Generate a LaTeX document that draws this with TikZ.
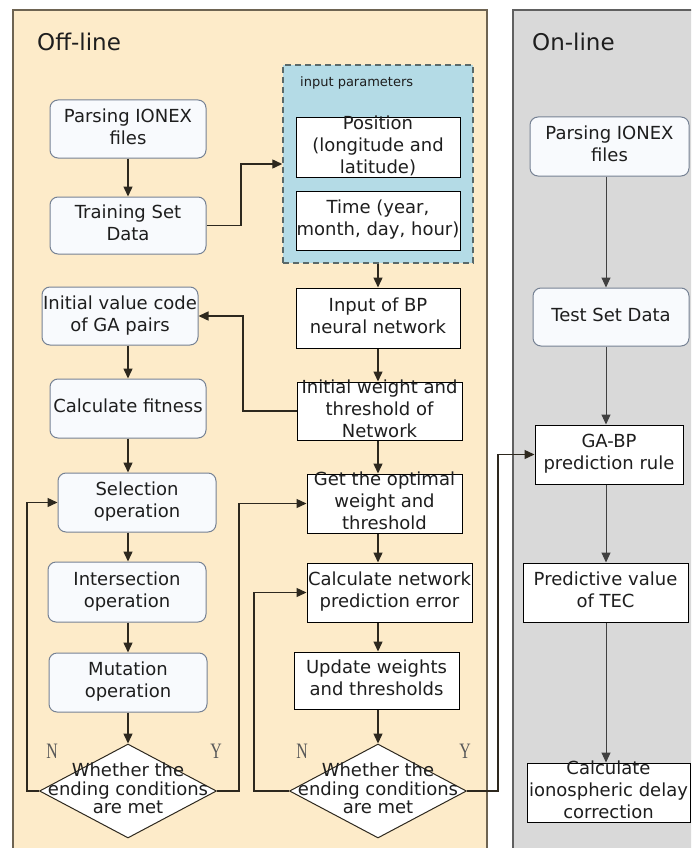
\documentclass[tikz,border=0pt]{standalone}
\usepackage{fontspec}
\setmainfont{DejaVu Sans}
\newfontfamily\ynfont{Liberation Serif}
\usetikzlibrary{shapes.geometric,arrows.meta}

% centred text of zero size, so that a node's size comes only from its minimum width/height
\newcommand{\ctext}[1]{\vbox to 0pt{\vss\hbox to 0pt{\hss\begin{tabular}{@{}c@{}}#1\end{tabular}\hss}\vss}}

\definecolor{offfill}{RGB}{253,235,201}
\definecolor{offedge}{RGB}{110,100,82}
\definecolor{onfill}{RGB}{217,217,217}
\definecolor{onedge}{RGB}{96,96,96}
\definecolor{parfill}{RGB}{180,219,230}
\definecolor{paredge}{RGB}{90,105,105}
\definecolor{rbedge}{RGB}{118,130,148}
\definecolor{rbfill}{RGB}{248,250,253}
\definecolor{linec}{RGB}{45,40,30}
\definecolor{txt}{RGB}{30,30,30}

\tikzset{
  panel/.style={line width=1.5pt},
  rbox/.style={draw=rbedge, fill=rbfill, line width=1pt, rounded corners=8pt,
    inner sep=0pt, text=txt, font=\fontsize{18}{22}\selectfont},
  sbox/.style={draw=black, fill=white, line width=1pt,
    inner sep=0pt, text=txt, font=\fontsize{18}{22}\selectfont},
  decide/.style={diamond, draw=linec, fill=white, line width=1pt, inner sep=0pt,
    minimum width=177pt, minimum height=94pt, text=txt, font=\fontsize{18}{18}\selectfont},
  arr/.style={draw=linec, line width=1.4pt, -{Triangle[length=10pt,width=9pt]}},
  onarr/.style={draw=black!75, line width=1pt, -{Triangle[length=10pt,width=9pt]}},
  yn/.style={text=black!65, font=\ynfont\fontsize{22}{24}\selectfont, inner sep=0pt},
  title/.style={anchor=west, inner sep=0pt, text=txt, font=\fontsize{23}{28}\selectfont}
}

\begin{document}
\begin{tikzpicture}[x=1pt,y=-1pt]
\useasboundingbox (0,0) rectangle (691,848);
\clip (0,0) rectangle (691,848);

% the two panels
\fill[white] (0,0) rectangle (691,848);
\draw[panel, draw=offedge, fill=offfill] (13,10) rectangle (487,870);
\draw[panel, draw=onedge, fill=onfill] (513,10) rectangle (710,870);
\node[title] (offtitle) at (37,42) {Off-line};
\node[title] (ontitle) at (532,42) {On-line};

% column guides for the vertical connectors
\coordinate (colL) at (128,0);
\coordinate (colM) at (378,0);
\coordinate (colR) at (606,0);
\coordinate (bendA) at (241,0);
\coordinate (bendB) at (243,0);
\coordinate (bendC) at (27,0);
\coordinate (bendD) at (239,0);
\coordinate (bendE) at (254,0);
\coordinate (bendF) at (498,0);

% input parameters group
\node[draw=paredge, fill=parfill, line width=1.5pt, dash pattern=on 6pt off 4pt,
      minimum width=190pt, minimum height=198pt, inner sep=0pt] (ipbox) at (378,164) {};
\node[anchor=west, inner sep=0pt, text=txt, font=\fontsize{13}{15}\selectfont]
      (iptitle) at (300,83) {input parameters};
\node[sbox, minimum width=164pt, minimum height=59pt] (pos) at (378,147.5)
      {\ctext{Position\\(longitude and\\latitude)}};
\node[sbox, minimum width=164pt, minimum height=59pt] (time) at (378,220.5)
      {\ctext{Time (year,\\month, day, hour)}};

% off-line, genetic algorithm column
\node[rbox, minimum width=156pt, minimum height=58pt] (opar) at (128,129)
      {\ctext{Parsing IONEX\\files}};
\node[rbox, minimum width=156pt, minimum height=57pt] (otrain) at (128,225.5)
      {\ctext{Training Set\\Data}};
\node[rbox, minimum width=156pt, minimum height=58pt] (gainit) at (120,316)
      {\ctext{Initial value code\\of GA pairs}};
\node[rbox, minimum width=156pt, minimum height=59pt] (fit) at (128,408.5)
      {\ctext{Calculate fitness}};
\node[rbox, minimum width=158pt, minimum height=59pt] (sel) at (137,502.5)
      {\ctext{Selection\\operation}};
\node[rbox, minimum width=158pt, minimum height=60pt] (inter) at (127,592)
      {\ctext{Intersection\\operation}};
\node[rbox, minimum width=158pt, minimum height=59pt] (mut) at (128,682.5)
      {\ctext{Mutation\\operation}};
\node[decide] (dia1) at (128,791)
      {\ctext{Whether the\\ending conditions\\are met}};

% off-line, BP network column
\node[sbox, minimum width=164pt, minimum height=60pt] (bpin) at (378,318)
      {\ctext{Input of BP\\neural network}};
\node[sbox, minimum width=165pt, minimum height=58pt] (initw) at (379.5,411)
      {\ctext{Initial weight and\\threshold of\\Network}};
\node[sbox, minimum width=155pt, minimum height=59pt] (getopt) at (384.5,503.5)
      {\ctext{Get the optimal\\weight and\\threshold}};
\node[sbox, minimum width=165pt, minimum height=59pt] (calcerr) at (389.5,592.5)
      {\ctext{Calculate network\\prediction error}};
\node[sbox, minimum width=165pt, minimum height=57pt] (update) at (376.5,680.5)
      {\ctext{Update weights\\and thresholds}};
\node[decide] (dia2) at (378,791)
      {\ctext{Whether the\\ending conditions\\are met}};

% on-line column
\node[rbox, minimum width=159pt, minimum height=59pt] (onpar) at (609.5,146.5)
      {\ctext{Parsing IONEX\\files}};
\node[rbox, minimum width=156pt, minimum height=58pt] (test) at (611,317)
      {\ctext{Test Set Data}};
\node[sbox, minimum width=148pt, minimum height=59pt] (gabp) at (609,454.5)
      {\ctext{GA-BP\\prediction rule}};
\node[sbox, minimum width=165pt, minimum height=59pt] (pred) at (605.5,592.5)
      {\ctext{Predictive value\\of TEC}};
\node[sbox, minimum width=163pt, minimum height=59pt] (ion) at (608.5,792.5)
      {\ctext{Calculate\\ionospheric delay\\correction}};

% N / Y branch labels
\node[yn] (n1) at (52,751) {\scalebox{0.72}[1]{N}};
\node[yn] (y1) at (216,751) {\scalebox{0.72}[1]{Y}};
\node[yn] (n2) at (302,751) {\scalebox{0.72}[1]{N}};
\node[yn] (y2) at (465,751) {\scalebox{0.72}[1]{Y}};

% connectors, genetic algorithm column
\draw[arr] (opar.south -| colL) -- (otrain.north -| colL);
\draw[arr] (gainit.south -| colL) -- (fit.north -| colL);
\draw[arr] (fit.south -| colL) -- (sel.north -| colL);
\draw[arr] (sel.south -| colL) -- (inter.north -| colL);
\draw[arr] (inter.south -| colL) -- (mut.north -| colL);
\draw[arr] (mut.south -| colL) -- (dia1.north);

% connectors, BP network column
\draw[arr] (ipbox.south -| colM) -- (bpin.north -| colM);
\draw[arr] (bpin.south -| colM) -- (initw.north -| colM);
\draw[arr] (initw.south -| colM) -- (getopt.north -| colM);
\draw[arr] (getopt.south -| colM) -- (calcerr.north -| colM);
\draw[arr] (calcerr.south -| colM) -- (update.north -| colM);
\draw[arr] (update.south -| colM) -- (dia2.north);

% cross links
\draw[arr] (otrain.east) -- (otrain.east -| bendA) |- (ipbox.west);
\draw[arr] (initw.west) -- (initw.west -| bendB) |- (gainit.east);
\draw[arr] (dia1.west) -- (dia1.west -| bendC) |- (sel.west);
\draw[arr] (dia1.east) -- (dia1.east -| bendD) |- (getopt.west);
\draw[arr] (dia2.west) -- (dia2.west -| bendE) |- (calcerr.west);
\draw[arr] (dia2.east) -- (dia2.east -| bendF) |- (gabp.west);

% connectors, on-line column
\draw[onarr] (onpar.south -| colR) -- (test.north -| colR);
\draw[onarr] (test.south -| colR) -- (gabp.north -| colR);
\draw[onarr] (gabp.south -| colR) -- (pred.north -| colR);
\draw[onarr] (pred.south -| colR) -- (ion.north -| colR);
\end{tikzpicture}
\end{document}
